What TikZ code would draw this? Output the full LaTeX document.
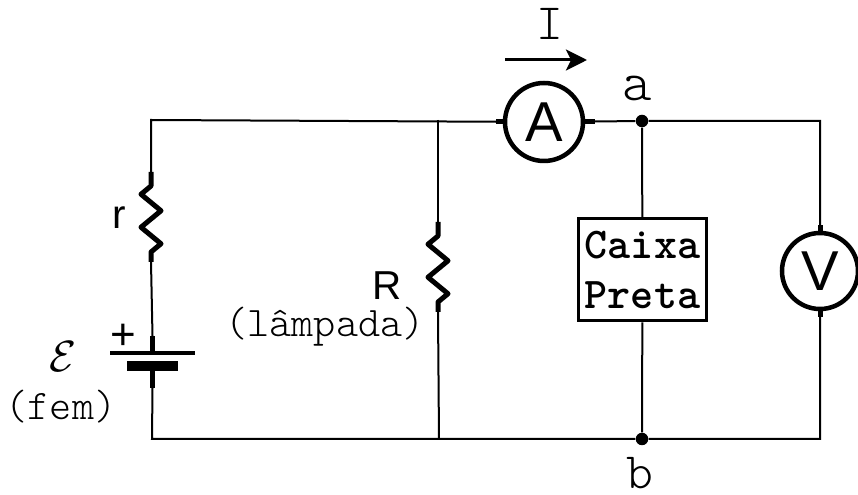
\documentclass[tikz,border=0pt]{standalone}
\usepackage{fontspec}
\setsansfont{Liberation Sans}
\usepackage{tikz}
\usetikzlibrary{arrows.meta,decorations.pathmorphing}

\begin{document}
\begin{tikzpicture}[
		wire/.style={line width=0.04cm},
		stub/.style={line width=0.1cm},
		resistor/.style={line width=0.1cm, line join=round, decorate,
			decoration={zigzag, segment length=0.66cm, amplitude=-0.2cm, pre length=0.28cm, post length=0.2cm}},
		meter/.style={circle, draw, line width=0.09cm, inner sep=0pt, font=\sffamily\fontsize{32}{32}\selectfont},
		dot/.style={circle, fill=black, inner sep=0pt, minimum size=0.25cm},
		plate/.style={rectangle, fill=black, inner sep=0pt},
		label/.style={inner sep=0pt, font=\ttfamily\fontseries{l}\fontsize{24}{24}\selectfont},
		biglabel/.style={inner sep=0pt, font=\ttfamily\fontseries{l}\fontsize{29}{29}\selectfont},
		sanslabel/.style={inner sep=0pt, font=\sffamily\fontsize{23}{23}\selectfont}
		]
		\useasboundingbox (0,0) rectangle (17.16,9.9);

		% Cantos e pontos do circuito
		\coordinate (TL) at (3.02,7.5);
		\coordinate (BL) at (3.04,1.12);
		\coordinate (TM) at (8.76,7.5);
		\coordinate (BM) at (8.78,1.12);
		\coordinate (TR) at (16.4,7.48);
		\coordinate (BR) at (16.4,1.12);
		\node[dot] (a) at (12.84,7.48) {};
		\node[dot] (b) at (12.84,1.12) {};

		% Amperimetro, voltimetro e caixa
		\node[meter, minimum size=1.56cm] (A) at (10.88,7.46) {A};
		\node[meter, minimum size=1.52cm] (V) at (16.4,4.48) {V};
		\node[draw, line width=0.06cm, minimum width=2.56cm, minimum height=2.04cm, inner sep=0pt,
			align=center, font=\ttfamily\bfseries\fontsize{25}{28}\selectfont] (C) at (12.85,4.5) {Caixa\\Preta};

		% Bateria
		\node[plate, minimum width=1.7cm, minimum height=0.08cm] (Bp) at (3.05,2.84) {};
		\node[plate, minimum width=1.02cm, minimum height=0.2cm] (Bn) at (3.05,2.58) {};
		\coordinate (Bt) at (3.05,3.18);
		\coordinate (Bb) at (3.05,2.14);

		% Resistores
		\coordinate (r1) at (3.02,6.46);
		\coordinate (r2) at (3.02,4.66);
		\coordinate (R1) at (8.76,5.46);
		\coordinate (R2) at (8.76,3.66);

		% Fios
		\draw[wire] (Bt) -- (r2);
		\draw[resistor] (r1) -- (r2);
		\draw[wire] (r1) -- (TL) -- (A);
		\draw[wire] (A) -- (a) -- (TR) -- (V);
		\draw[wire] (a) -- (C);
		\draw[wire] (C) -- (b);
		\draw[wire] (V) -- (BR) -- (b) -- (BL) -- (Bb);
		\draw[wire] (TM) -- (R1);
		\draw[resistor] (R1) -- (R2);
		\draw[wire] (R2) -- (BM);

		% Terminais grossos
		\draw[stub] (Bt) -- (Bp);
		\draw[stub] (Bn) -- (Bb);
		\draw[stub] (A.west) -- ++(-0.14,0);
		\draw[stub] (A.east) -- ++(0.2,0);
		\draw[stub] (V.north) -- ++(0,0.12);
		\draw[stub] (V.south) -- ++(0,-0.12);

		% Corrente
		\coordinate (I1) at (10.1,8.7);
		\coordinate (I2) at (11.74,8.7);
		\draw[line width=0.06cm, -{Stealth[length=0.42cm, width=0.42cm, inset=0.1cm]}] (I1) -- (I2);

		% Textos
		\node[biglabel] (Ilabel) at (11,9.42) {I};
		\node[biglabel, font=\ttfamily\fontseries{l}\fontsize{32}{32}\selectfont] (alabel) at (12.74,8.14) {a};
		\node[biglabel] (blabel) at (12.8,0.44) {b};
		\node[sanslabel] (rlabel) at (2.38,5.54) {r};
		\node[sanslabel] (Rlabel) at (7.74,4.18) {R};
		\node[label] (lamp) at (6.5,3.36) {(lâmpada)};
		\node[sanslabel, font=\sffamily\fontsize{25}{25}\selectfont] (plus) at (2.46,3.16) {+};
		\node[inner sep=0pt, font=\fontsize{34}{34}\selectfont] (fem) at (1.26,2.76) {$\mathcal{E}$};
		\node[label] (femlabel) at (1.22,1.76) {(fem)};
\end{tikzpicture}
\end{document}
